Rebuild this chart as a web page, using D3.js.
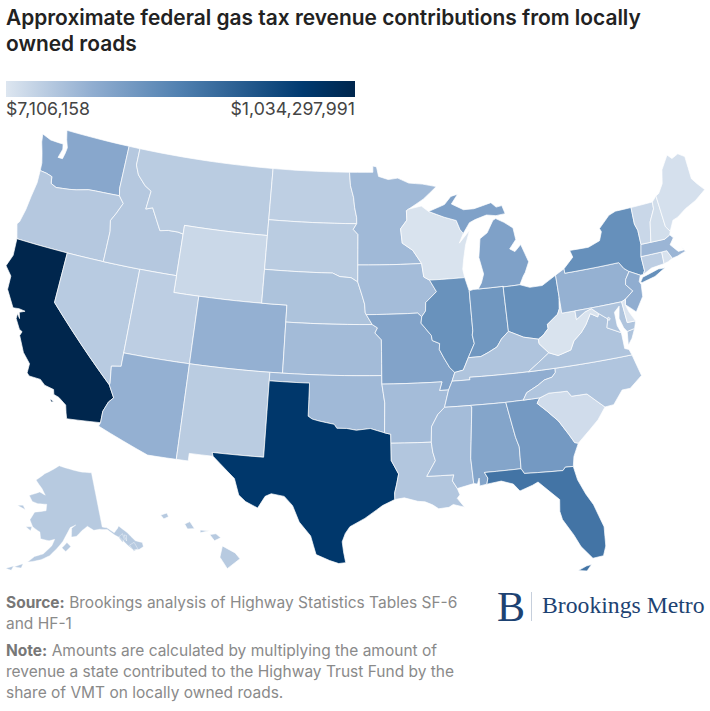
<!DOCTYPE html>
<html>
<head>
<meta charset="utf-8">
<script src="https://cdn.jsdelivr.net/npm/d3@7"></script>
<style>
  body { margin: 0; background: #fff; }
  svg { display: block; font-family: Inter, sans-serif; }
</style>
</head>
<body>
<svg id="chart" width="710" height="711"></svg>
<script>
const titleLines = ['Approximate federal gas tax revenue contributions from locally', 'owned roads'];
const legendLabels = ['$7,106,158', '$1,034,297,991'];
const legendDomain = [7106158, 263000000, 520000000, 880000000, 1034297991];
const legendColors = ['#dde6f0', '#90add0', '#5080b0', '#003a70', '#00264d'];

// values read off the colours, so these are estimates
const stateCodes = ['WA','OR','CA','NV','ID','MT','WY','UT','CO','AZ','NM','ND','SD','NE','KS','OK','TX','MN','IA','MO','AR','LA','WI','IL','IN','MI','OH','KY','TN','MS','AL','GA','FL','SC','NC','VA','WV','PA','NY','NJ','MD','DE','DC','CT','RI','MA','VT','NH','ME','AK','HI'];
const stateValues = [295,140,1034.3,130,140,125,70,115,250,250,125,110,125,165,200,210,900,210,195,320,195,150,20,420,390,330,430,160,265,195,310,375,580,50,155,160,22,245,430,265,160,10,60,115,25,225,75,45,35,135,135].map(d => d * 1e6);

// shared borders, lon,lat pairs
const snake = '-117.03,42 -117.03,43.83 -117.2,44.45 -116.85,44.95 -116.46,45.6 -116.92,46';
const columbia = '-124,46.25 -123.4,46.2 -122.9,46.1 -122.8,45.7 -122.3,45.55 -121.2,45.65 -120.6,45.73 -119.6,45.92 -119,45.95 -116.92,46';
const idMt = '-116.05,49 -116.05,48 -115.7,47.45 -114.95,46.9 -114.35,46.65 -114.5,45.55 -113.95,45.7 -113.45,45.05 -113,44.45 -112.3,44.55 -111.5,44.55 -111.05,44.48';
const caAz = '-114.63,35 -114.14,34.3 -114.45,34 -114.72,33.4 -114.72,32.72';
const nvAz = '-114.63,35 -114.6,35.1 -114.75,36.1 -114.04,36.2';
const redRiverN = '-97.23,49 -97.13,48.2 -96.85,47.5 -96.75,46.9 -96.57,46.3 -96.56,45.94';
const sdMn = '-96.56,45.94 -96.85,45.6 -96.45,45.3 -96.45,43.5';
const sdNe = '-104.05,43 -98.5,43 -97.9,42.8 -97,42.75 -96.45,42.5';
const missouriN = '-96.45,42.5 -96.1,41.7 -95.9,41.2 -95.85,40.7 -95.77,40.58';
const ksMo = '-95.31,40 -94.9,39.8 -95.1,39.5 -94.61,39.1 -94.62,37';
const redRiverS = '-100,34.56 -99.7,34.4 -99.2,34.3 -98.1,34.13 -97.9,33.9 -97.2,33.9 -96.5,33.8 -95.5,33.9 -94.48,33.64';
const sabine = '-94.04,33.02 -94.04,32 -93.55,31.2 -93.7,30.6 -93.85,30.1 -93.85,29.7';
const upperMiss = '-91.22,43.5 -91.1,42.7 -90.65,42.5 -90.15,41.8 -91.05,41.2 -91.1,40.7 -91.42,40.38';
const midMiss = '-91.42,40.38 -91.5,40 -90.75,39.25 -90.7,38.95 -90.15,38.75 -90.2,38.4 -89.9,37.9 -89.5,37.3 -89.15,37';
const lowMissB = '-90.08,35 -90.6,34.6 -91.1,33.9 -91.17,33';
const lowMissC = '-91.17,33 -91.1,32.4 -90.95,31.9 -91.6,31';
const mnWi = '-92.3,46.66 -92.29,46.1 -92.85,45.6 -92.75,44.75 -91.9,44.3 -91.22,43.5';
const ohioW = '-89.15,37 -88.5,37.1 -88.05,37.8';
const ohioIn = '-88.05,37.8 -87.1,37.8 -86.5,38 -85.8,38.27 -85.4,38.7 -84.8,39.1';
const ohioOh = '-84.8,39.1 -84.3,38.9 -83.7,38.65 -82.6,38.42';
const ohioWv = '-82.6,38.42 -82.2,38.6 -81.75,38.95 -81.75,39.2 -80.85,39.7 -80.65,40 -80.52,40.64';
const wabash = '-88.05,37.8 -87.5,38.6 -87.6,39.1 -87.53,39.35';
const tnNc = '-84.32,34.99 -84,35.4 -83.1,35.75 -82.6,36 -82,36.1 -81.7,36.35 -81.68,36.59';
const gaSc = '-83.1,35 -83.35,34.7 -82.75,34.2 -82,33.5 -81.4,32.6 -81.1,32.1 -80.85,32.03';
const alGa = '-85.6,34.98 -85.18,32.87 -85,32.3 -85.05,31';
const gaFl = '-85.05,31 -84.86,30.7 -82.2,30.57 -82,30.75 -81.45,30.72';
const msAl = '-88.2,35 -88.1,34.9 -88.47,31.9 -88.4,30.4';
const vaWv = '-81.97,37.54 -81.3,37.3 -80.3,37.5 -79.95,38 -79.3,38.4 -78.85,38.8 -78.35,39.4 -77.83,39.13 -77.72,39.32';
const potomacU = '-77.72,39.32 -78.2,39.68 -78.75,39.55 -79.48,39.2';
const potomacL = '-76.3,37.95 -77.3,38.4 -77.1,38.9 -77.72,39.32';
const delaware = '-74.7,41.36 -75.1,40.95 -75.2,40.65 -74.75,40.2 -75.45,39.82';
const nyVt = '-73.35,45 -73.4,44 -73.25,43.6 -73.27,42.75';
const vtNh = '-71.5,45.01 -71.55,44.6 -72.1,43.9 -72.45,42.73';
const nhMa = '-72.45,42.73 -71.3,42.7 -70.82,42.87';

const rev = s => s.split(' ').reverse().join(' ');

const stateShapes = {
  WA: ['-124.72,48.38 -123.9,48.17 -123.1,48.15 -122.75,48.15 -122.65,47.85 -122.85,47.3 -122.45,47.3 -122.35,47.65 -122.3,48 -122.55,48.45 -122.76,49 -117.04,49 -117.04,46.42 ' + rev(columbia) + ' -124.05,46.7 -124.3,47.3 -124.6,47.9'],
  OR: ['-124,46.25 -123.95,45.5 -124.1,44.6 -124.2,43.8 -124.4,43 -124.55,42.84 -124.2,42 -120,42 ' + snake + ' ' + rev(columbia)],
  CA: ['-124.2,42 -120,42 -120,39 ' + caAz + ' -117.12,32.53 -117.25,32.85 -117.4,33.3 -118,33.65 -118.4,33.75 -118.5,34.03 -119.2,34.15 -119.6,34.42 -120.45,34.45 -120.65,34.6 -120.65,35.15 -121.3,35.7 -121.9,36.6 -121.8,36.85 -122.05,36.95 -122.5,37.5 -122.5,37.8 -122.25,37.55 -122.4,37.9 -122,38.05 -122.5,38.1 -122.95,38.05 -123.75,39 -123.8,39.8 -124.4,40.3 -124.1,41',
       '-118.6,33.45 -118.3,33.35 -118.45,33.28'],
  NV: ['-120,42 -114.04,42 ' + rev(nvAz) + ' -120,39'],
  ID: ['-117.04,49 ' + idMt + ' -111.05,42 ' + snake + ' -117.04,46.42'],
  MT: ['-116.05,49 -104.05,49 -104.05,45 -111.05,45 ' + rev(idMt)],
  WY: ['-111.05,45 -104.05,45 -104.05,41 -111.05,41'],
  UT: ['-114.04,42 -111.05,42 -111.05,41 -109.05,41 -109.05,37 -114.04,37'],
  CO: ['-109.05,41 -102.05,41 -102.05,37 -109.05,37'],
  AZ: ['-114.04,37 -109.05,37 -109.05,31.33 -111.07,31.33 -114.81,32.5 ' + rev(caAz) + ' -114.6,35.1 -114.75,36.1 -114.04,36.2'],
  NM: ['-109.05,37 -103,37 -103,32 -106.62,32 -106.53,31.78 -108.21,31.78 -108.21,31.33 -109.05,31.33'],
  ND: ['-104.05,49 ' + redRiverN + ' -104.05,45.94'],
  SD: ['-104.05,45.94 ' + sdMn + ' -96.45,42.5 ' + rev(sdNe)],
  NE: [sdNe + ' ' + missouriN + ' -95.31,40 -102.05,40 -102.05,41 -104.05,41'],
  KS: ['-102.05,40 ' + ksMo + ' -102.05,37'],
  OK: ['-103,37 -94.62,37 -94.62,36.5 -94.43,35.4 ' + rev(redRiverS) + ' -100,36.5 -103,36.5'],
  TX: ['-103,36.5 -100,36.5 ' + redRiverS + ' -94.04,33.55 ' + sabine + ' -94.7,29.35 -95.1,29.1 -95.9,28.6 -96.9,28.1 -97.2,27.7 -97.4,27.2 -97.3,26.6 -97.15,25.96 -97.6,25.9 -98.2,26.07 -99.1,26.4 -99.5,27.5 -100.3,28.3 -100.8,29.25 -101.4,29.77 -102.3,29.88 -102.7,29.7 -103.15,28.98 -104,29.3 -104.5,29.65 -104.9,30.6 -106,31.4 -106.53,31.78 -106.62,32 -103,32'],
  MN: [redRiverN + ' ' + sdMn + ' -91.22,43.5 ' + rev(mnWi) + ' -92.1,46.75 -90.8,47.3 -89.6,48 -90.8,48.2 -92,48.3 -92.95,48.62 -93.8,48.55 -94.65,48.75 -94.82,49.32 -95.15,49.38 -95.15,49'],
  IA: [upperMiss + ' -91.73,40.6 ' + rev(missouriN) + ' -96.45,43.5'],
  MO: ['-95.77,40.58 -91.73,40.6 ' + midMiss + ' -89.4,36.5 -89.7,36 -90.37,36 -90.15,36.5 -94.62,36.5 ' + rev(ksMo)],
  AR: ['-94.62,36.5 -90.15,36.5 -90.37,36 -89.7,36 ' + lowMissB + ' -94.04,33.02 -94.04,33.55 -94.48,33.64 -94.43,35.4'],
  LA: [rev(sabine) + ' ' + lowMissC + ' -89.73,31 -89.85,30.65 -89.55,30.18 -89.4,29.8 -89.6,29.6 -89.15,29.05 -89.9,29.25 -90.2,29.1 -90.9,29.05 -91.3,29.3 -91.8,29.5 -92.3,29.55 -93.2,29.78'],
  MS: ['-90.08,35 ' + msAl + ' -89.55,30.18 -89.85,30.65 -89.73,31 ' + rev(lowMissC) + ' -91.1,33.9 -90.6,34.6'],
  WI: [mnWi + ' -91.1,42.7 -90.65,42.5 -87.8,42.5 -87.9,43 -87.75,43.6 -87.5,44.4 -87.05,45.25 -88,44.55 -87.6,45.1 -87.85,45.35 -88.1,45.9 -89.1,46.15 -90.4,46.55 -91,46.9 -92.1,46.75'],
  IL: ['-91.42,40.38 -91.1,40.7 -91.05,41.2 -90.15,41.8 -90.65,42.5 -87.8,42.5 -87.55,41.75 -87.53,41.7 ' + rev(wabash) + ' -88.5,37.1 ' + rev(midMiss)],
  IN: ['-87.53,41.7 -87.2,41.76 -86.8,41.76 -84.8,41.76 ' + rev(ohioIn) + ' ' + wabash],
  MI: ['-86.8,41.76 -86.5,42.1 -86.25,42.6 -86.5,43.6 -86.25,44.7 -85.6,45 -85,45.7 -84.75,45.78 -84.1,45.5 -83.4,45.1 -83.3,44.4 -83.9,43.9 -83.5,43.7 -82.95,44.07 -82.5,43 -82.9,42.4 -83.1,42.2 -83.45,41.73 -84.8,41.72 -84.8,41.76',
       '-90.4,46.55 -89,46.9 -88.4,47.35 -87.8,47.45 -88.4,46.9 -87.4,46.5 -86.5,46.5 -85,46.75 -84.6,46.45 -84.1,46.5 -83.9,46 -84.7,45.95 -85.5,46.05 -86.5,45.85 -87,45.7 -87.6,45.1 -87.85,45.35 -88.1,45.9 -89.1,46.15'],
  OH: ['-84.8,41.72 -83.45,41.73 -82.7,41.5 -81.7,41.5 -80.52,41.98 ' + rev(ohioWv) + ' ' + rev(ohioOh) + ' -84.8,41.76'],
  KY: [ohioW + ' ' + ohioIn + ' ' + ohioOh + ' -82.6,38.15 -81.97,37.54 -83.68,36.6 -88.07,36.65 -88.07,36.5 -89.4,36.5'],
  TN: ['-89.4,36.5 -88.07,36.5 -88.07,36.65 -83.68,36.6 ' + rev(tnNc) + ' -85.6,34.98 -88.2,35 -90.08,35 -89.7,36'],
  AL: [alGa + ' -87.6,31 -87.4,30.65 -87.5,30.3 -88,30.23 -88,30.7 -88.15,30.35 ' + rev(msAl)],
  GA: ['-85.6,34.98 -84.32,34.99 -83.1,35 ' + gaSc + ' -81.3,31.3 ' + rev(gaFl) + ' ' + rev(alGa)],
  FL: ['-87.6,31 ' + gaFl + ' -81.3,29.9 -80.9,29 -80.5,28.3 -80.05,26.9 -80.15,25.75 -80.4,25.2 -81.1,25.15 -81.75,25.95 -82.1,26.7 -82.7,27.7 -82.8,28.2 -82.7,28.9 -83.4,29.55 -84,30.1 -84.4,29.95 -85.3,29.7 -85.7,30.15 -86.5,30.4 -87.5,30.3 -87.4,30.65',
       '-82.15,24.55 -81.6,24.75 -81.25,24.8 -81.6,24.45'],
  SC: ['-83.1,35 -82.4,35.2 -81.05,35.15 -80.8,34.82 -79.67,34.8 -78.55,33.86 -79.2,33.2 -79.9,32.7 ' + rev(gaSc)],
  NC: [tnNc + ' -75.87,36.55 -75.5,35.25 -76.5,34.65 -77.1,34.65 -77.9,33.9 -78.55,33.86 -79.67,34.8 -80.8,34.82 -81.05,35.15 -82.4,35.2 -83.1,35'],
  VA: ['-83.68,36.6 ' + vaWv + ' ' + rev(potomacL) + ' -76.3,37.5 -76.3,37 -76,36.9 -75.87,36.55 -81.68,36.59',
       '-75.98,37.15 -75.85,37.95 -75.25,38.03 -75.6,37.5'],
  WV: [ohioWv + ' -80.52,39.72 -79.48,39.72 ' + rev(potomacU) + ' ' + rev(vaWv) + ' -82.6,38.15'],
  MD: ['-79.48,39.72 -75.79,39.72 -75.7,38.46 -75.05,38.45 -75.25,38.03 -75.85,37.95 -76.05,38.2 -76.25,38.8 -76.05,39.5 -76.5,39.2 -76.5,38.4 ' + potomacL + ' ' + potomacU],
  DE: ['-75.79,39.72 -75.45,39.82 -75.55,39.5 -75.4,39.05 -75.05,38.45 -75.7,38.46'],
  DC: ['-77.12,38.93 -77.04,39 -76.91,38.89 -77.04,38.79'],
  PA: ['-80.52,41.98 -79.76,42.27 -79.76,42 -75.35,42 -75.05,41.6 ' + delaware + ' -75.79,39.72 -80.52,39.72'],
  NJ: ['-74.7,41.36 -73.9,41 -74.1,40.65 -74,40.45 -74.1,39.75 -74.85,38.95 -75.15,39.2 -75.55,39.5 -75.45,39.82 ' + rev(delaware).split(' ').slice(1).join(' ')],
  NY: ['-79.76,42.27 -78.9,42.85 -79.05,43.27 -77.5,43.25 -76.5,43.5 -76.2,44 -76.3,44.2 -75.3,44.85 -74.7,45 ' + nyVt + ' -73.5,42.05 -73.49,41.2 -73.65,41 -73.9,41 -74.7,41.36 -75.05,41.6 -75.35,42 -79.76,42',
       '-74,40.6 -73.75,40.85 -72.4,41.1 -71.87,41.07 -72.8,40.72 -73.9,40.55'],
  VT: ['-73.35,45 ' + vtNh + ' -73.27,42.75 -73.25,43.6 -73.4,44'],
  NH: ['-71.5,45.01 -71.08,45.3 -70.98,43.4 -70.7,43.07 -70.82,42.87 -71.3,42.7 ' + rev(vtNh)],
  ME: ['-71.08,45.3 -70.8,45.4 -70.3,45.9 -70,46.7 -69.23,47.46 -68.9,47.18 -68.3,47.35 -67.79,47.07 -67.8,45.7 -67.45,45.3 -67,44.85 -68,44.4 -69,44.1 -69.8,43.75 -70.25,43.65 -70.7,43.07 -70.98,43.4'],
  MA: ['-73.5,42.05 -73.27,42.75 ' + nhMa + ' -70.6,42.65 -71,42.3 -70.65,41.95 -70.5,41.8 -70,41.8 -70.2,42.07 -69.95,41.7 -70.65,41.55 -71.1,41.5 -71.38,42.02 -71.8,42.02'],
  CT: ['-73.5,42.05 -71.8,42.02 -71.85,41.32 -72.9,41.25 -73.65,41 -73.49,41.2'],
  RI: ['-71.8,42.02 -71.38,42.02 -71.1,41.5 -71.5,41.37 -71.85,41.32'],
  AK: ['-141,69.65 -141,60.3 -139.5,60 -137.5,58.9 -136,59.5 -135.5,59.8 -133.5,58.4 -131.8,56.6 -130,55.9 -130.1,55.2 -131.5,55 -133.3,55.2 -134.5,56.3 -136,57.8 -137.5,58.5 -139.5,59.7 -142,60 -144,60 -146,60.8 -148,60.2 -150,59.3 -151.7,59.2 -151.5,60.7 -150,61.2 -152,60.8 -153.5,59.5 -154.5,58.5 -156.5,57.2 -158.5,56 -161,55.2 -163.5,54.7 -164.8,54.5 -163,55.6 -160.5,56.2 -158,57.7 -157.2,58.8 -159,58.5 -161.8,58.7 -162.3,59.8 -165,60.5 -166.4,61.6 -165.2,63 -161,63.5 -161,64.6 -164.5,64.5 -166.8,64.7 -168.5,65.6 -164.5,66.5 -162,66.1 -163.7,67.1 -167,68.4 -163.5,69.7 -156.7,71.3 -152,70.8 -146,70.1',
       '-154.8,57.4 -153.2,58.3 -152,57.6 -153.6,56.8', '-172,63.5 -168.8,63.1 -170,63.75', '-167.3,60.3 -165.3,60.5 -165.5,59.8',
       '-168.3,53.3 -166,54.1 -166.3,53.3', '-170.5,52.7 -168.5,53.4 -168.9,52.6',
       '-136.5,58 -135,58.4 -134.9,57.4 -135.7,57', '-134.6,58.1 -133.9,57.9 -134.4,57', '-133.9,56.2 -132.3,56.4 -131.9,55.2 -133.2,55'],
  HI: ['-155.9,20.27 -155.1,19.85 -154.8,19.5 -155.6,18.92 -156.06,19.6', '-156.7,20.95 -156.3,21 -156,20.75 -156.4,20.58', '-157.3,21.22 -156.7,21.18 -157.3,21.05',
       '-158.28,21.58 -157.95,21.72 -157.65,21.3 -158.1,21.28', '-159.8,22.1 -159.4,22.23 -159.3,22 -159.6,21.87']
};

const svg = d3.select('#chart');

// straight lon/lat edges need extra points or the borders bend the wrong way
function parseRing(text) {
  const pts = text.trim().split(/\s+/).map(p => p.split(',').map(Number));
  const out = [];
  pts.forEach((p, i) => {
    const next = pts[(i + 1) % pts.length];
    const steps = Math.max(1, Math.ceil(Math.max(Math.abs(next[0] - p[0]), Math.abs(next[1] - p[1]))));
    for (let k = 0; k < steps; k++) {
      out.push([p[0] + (next[0] - p[0]) * k / steps, p[1] + (next[1] - p[1]) * k / steps]);
    }
  });
  out.push(out[0]);
  return out;
}

function stateFeature(code, i) {
  const rings = stateShapes[code].map(parseRing).map(ring => {
    const area = d3.geoArea({ type: 'Polygon', coordinates: [ring] });
    return area > 2 * Math.PI ? ring.reverse() : ring;
  });
  return {
    type: 'Feature',
    id: code,
    properties: { value: stateValues[i] },
    geometry: { type: 'MultiPolygon', coordinates: rings.map(r => [r]) }
  };
}

const features = stateCodes.map(stateFeature);

const color = d3.scaleLinear().domain(legendDomain).range(legendColors).interpolate(d3.interpolateRgb);

const projection = d3.geoAlbersUsa().scale(968).translate([355.5, 346.7]);
const path = d3.geoPath(projection);

svg.append('g')
  .selectAll('path')
  .data(features)
  .enter().append('path')
  .attr('d', path)
  .attr('fill', d => color(d.properties.value))
  .attr('stroke', '#fff')
  .attr('stroke-width', d => d.id === 'AK' ? 0.4 : 0.7)
  .attr('stroke-linejoin', 'round');

// title
svg.append('g')
  .selectAll('text')
  .data(titleLines)
  .enter().append('text')
  .attr('x', 6)
  .attr('y', (d, i) => 25 + i * 26)
  .attr('font-size', 20.9)
  .attr('font-weight', 600)
  .attr('fill', '#222')
  .text(d => d);

// legend
const legendX = d3.scaleLinear().domain(d3.extent(legendDomain)).range([6, 355]);
const grad = svg.append('defs').append('linearGradient').attr('id', 'legendGrad');
grad.selectAll('stop')
  .data(legendDomain)
  .enter().append('stop')
  .attr('offset', d => (legendX(d) - 6) / 349)
  .attr('stop-color', d => color(d));

svg.append('rect')
  .attr('x', legendX.range()[0])
  .attr('y', 81)
  .attr('width', legendX.range()[1] - legendX.range()[0])
  .attr('height', 16)
  .attr('fill', 'url(#legendGrad)');

svg.append('text').attr('x', 6).attr('y', 114.5).attr('font-size', 17.7).attr('fill', '#444').text(legendLabels[0]);
svg.append('text').attr('x', 355).attr('y', 114.5).attr('font-size', 17.7).attr('fill', '#444').attr('text-anchor', 'end').text(legendLabels[1]);

// footer notes
const footLines = [
  { y: 608, bold: 'Source:', text: ' Brookings analysis of Highway Statistics Tables SF-6' },
  { y: 629, bold: '', text: 'and HF-1' },
  { y: 656, bold: 'Note:', text: ' Amounts are calculated by multiplying the amount of' },
  { y: 677, bold: '', text: 'revenue a state contributed to the Highway Trust Fund by the' },
  { y: 698, bold: '', text: 'share of VMT on locally owned roads.' }
];
const foot = svg.append('g').attr('font-size', 15.5).attr('fill', '#8a8a8a');
footLines.forEach(l => {
  const t = foot.append('text').attr('x', 6).attr('y', l.y);
  if (l.bold) t.append('tspan').attr('font-weight', 700).attr('fill', '#777').text(l.bold);
  t.append('tspan').text(l.text);
});

// logo
const logo = svg.append('g').attr('font-family', '"Liberation Serif", serif').attr('fill', '#1d4272');
logo.append('text').attr('x', 497).attr('y', 621).attr('font-size', 42).text('B');
logo.append('rect').attr('x', 531).attr('y', 592).attr('width', 0.8).attr('height', 29).attr('fill', '#b8c4d4');
logo.append('text').attr('x', 542).attr('y', 613).attr('font-size', 23.7).text('Brookings Metro');
</script>
</body>
</html>
